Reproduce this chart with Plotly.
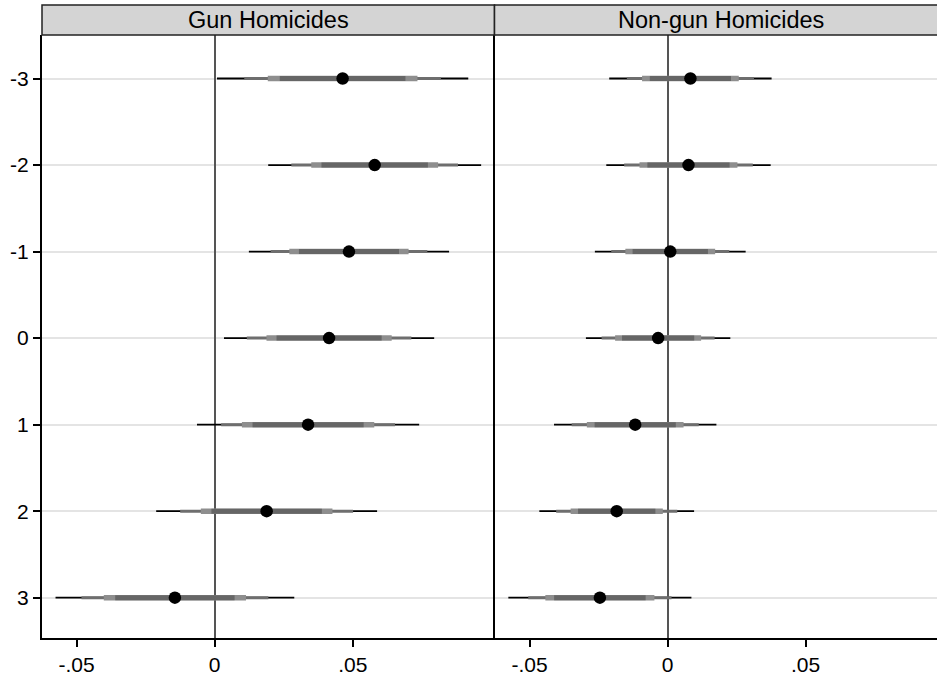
import plotly.graph_objects as go

# ---- data ----
periods = [-3, -2, -1, 0, 1, 2, 3]
gun_coef = [0.0463, 0.0579, 0.0486, 0.0414, 0.0338, 0.0188, -0.0144]
gun_se = [0.01382, 0.01171, 0.01101, 0.01156, 0.01222, 0.01215, 0.01313]
nongun_coef = [0.0083, 0.0076, 0.0010, -0.0034, -0.0117, -0.0184, -0.0245]
nongun_se = [0.00894, 0.00905, 0.00830, 0.00795, 0.00894, 0.00852, 0.01008]
panel_titles = ["Gun Homicides", "Non-gun Homicides"]
x_tickvals = [-0.05, 0, 0.05]
x_ticktext = ["-.05", "0", ".05"]
y_ticktext = ["-3", "-2", "-1", "0", "1", "2", "3"]
ci_levels = [99.9, 99, 95, 90]
z_values = [3.2905, 2.5758, 1.9600, 1.6449]

# ---- styles ----
ci_colors = ["#000000", "#6e6e6e", "#8e8e8e", "#666666"]
ci_widths = [1.8, 3, 5.5, 5]
FONT = "Liberation Sans, Arial, Helvetica, sans-serif"

W, H = 937, 680
ML, MR, MT, MB = 42, 0, 35, 42
split = (494.5 - ML) / (W - ML - MR)
plot_h = H - MT - MB

fig = go.Figure()

panels = [(gun_coef, gun_se, "x", "y"), (nongun_coef, nongun_se, "x2", "y2")]
for coef, se, xa, ya in panels:
    for lvl, z, col, wd in zip(ci_levels, z_values, ci_colors, ci_widths):
        xs, ys = [], []
        for p, b, s in zip(periods, coef, se):
            xs += [b - z * s, b + z * s, None]
            ys += [p, p, None]
        fig.add_trace(go.Scatter(x=xs, y=ys, mode="lines", xaxis=xa, yaxis=ya,
                                 line=dict(color=col, width=wd),
                                 hoverinfo="skip", showlegend=False,
                                 name=f"{lvl}% CI"))
    fig.add_trace(go.Scatter(x=coef, y=periods, mode="markers", xaxis=xa, yaxis=ya,
                             marker=dict(color="black", size=12.5),
                             showlegend=False, name="estimate"))

xr1 = [-(215 - 42.5) / 2760, (494.5 - 215) / 2760]
xr2 = [-(667.5 - 494.5) / 2760, (937 - 667.5) / 2760]
yr = [3.466, -3.503]

common_x = dict(tickvals=x_tickvals, ticktext=x_ticktext, ticks="outside",
                ticklen=7, tickwidth=1.5, tickcolor="#000", showline=True,
                linecolor="#000", linewidth=2, showgrid=False,
                zeroline=True, zerolinecolor="#555555", zerolinewidth=1.6,
                tickfont=dict(family=FONT, size=21, color="#000"))
common_y = dict(range=yr, tickvals=periods, showgrid=True,
                gridcolor="#e4e4e4", gridwidth=1.6, zeroline=False,
                showline=True, linecolor="#000", linewidth=2)

fig.update_layout(
    width=W, height=H,
    margin=dict(l=ML, r=MR, t=MT, b=MB),
    paper_bgcolor="white", plot_bgcolor="white",
    xaxis=dict(domain=[0, split], range=xr1, anchor="y", **common_x),
    xaxis2=dict(domain=[split, 1], range=xr2, anchor="y2", **common_x),
    yaxis=dict(anchor="x", ticktext=y_ticktext, ticks="outside", ticklen=7,
               tickwidth=1.5, tickcolor="#000",
               tickfont=dict(family=FONT, size=21, color="#000"), **common_y),
    yaxis2=dict(anchor="x2", showticklabels=False, ticks="", **common_y),
    showlegend=False,
)

strip_top = 1 + 30 / plot_h
fig.add_shape(type="rect", xref="paper", yref="paper", x0=0, x1=split,
              y0=1, y1=strip_top, fillcolor="#d4d4d4",
              line=dict(color="#222", width=1.5), layer="above")
fig.add_shape(type="rect", xref="paper", yref="paper", x0=split, x1=1.02,
              y0=1, y1=strip_top, fillcolor="#d4d4d4",
              line=dict(color="#222", width=1.5), layer="above")
right_center = split + (452.5 / 2) / (W - ML - MR)
for txt, cx in zip(panel_titles, [split / 2, right_center]):
    fig.add_annotation(text=txt, xref="paper", yref="paper", x=cx,
                       y=(1 + strip_top) / 2, showarrow=False,
                       xanchor="center", yanchor="middle",
                       font=dict(family=FONT, size=23.5, color="#000"))

fig.write_html("out.html")
